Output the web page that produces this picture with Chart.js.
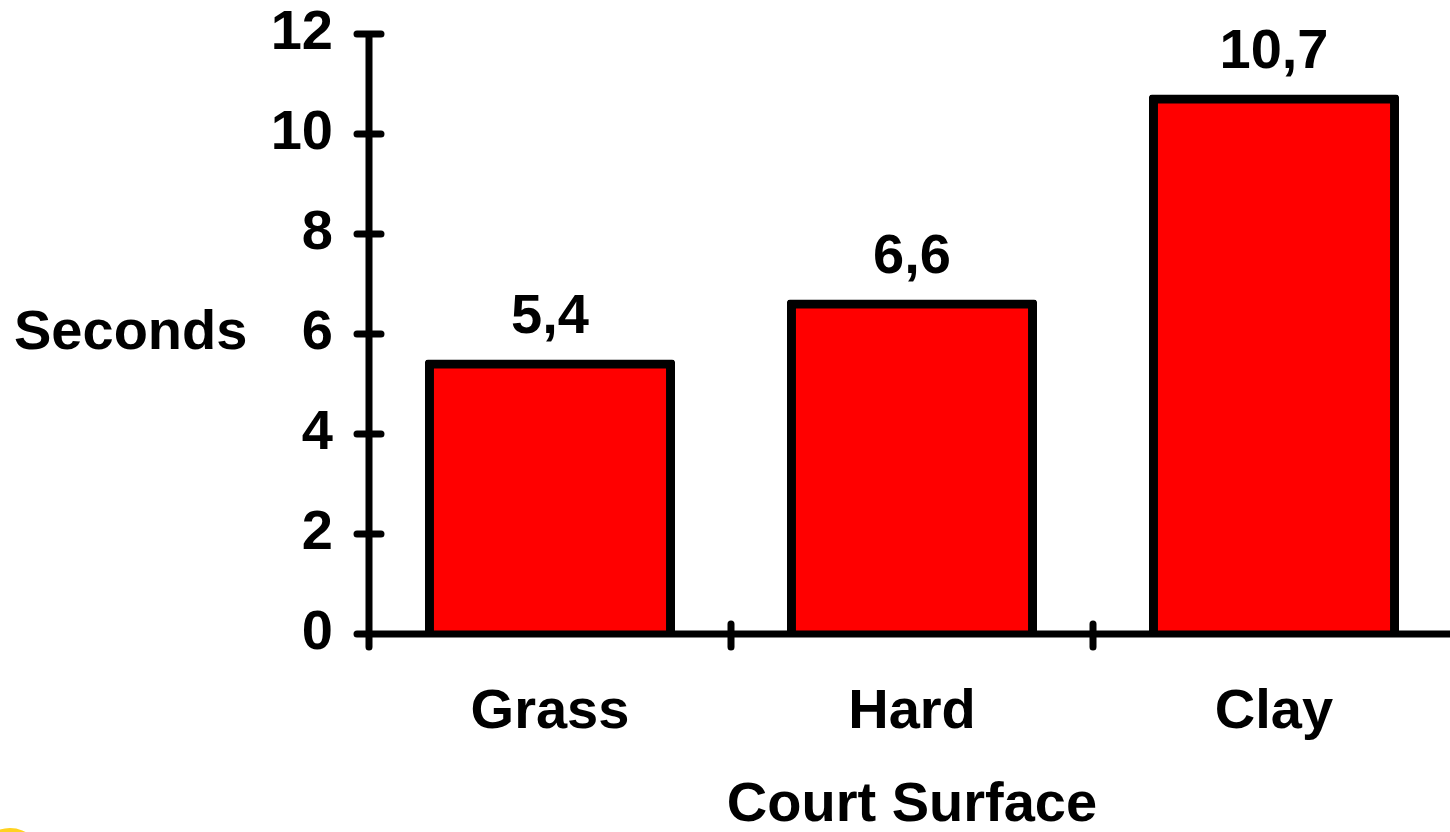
<!DOCTYPE html>
<html>
<head>
<meta charset="utf-8">
<title>Court Surface</title>
<script src="https://cdn.jsdelivr.net/npm/chart.js@4.4.1/dist/chart.umd.min.js"></script>
<style>
    html, body {
        margin: 0;
        padding: 0;
        background: #ffffff;
        overflow: hidden;
    }
    .chart-box {
        width: 1460px;
        height: 832px;
    }
</style>
</head>
<body>
<div class="chart-box">
    <canvas class="surface-chart"></canvas>
</div>
<script>
const surfaces = ['Grass', 'Hard', 'Clay'];
const seconds = [5.4, 6.6, 10.7];
const yTicks = [0, 2, 4, 6, 8, 10, 12];

const ctx = document.querySelector('.surface-chart');
const bigFont = { family: "'Liberation Sans', Arial, sans-serif", size: 56, weight: 'bold' };

// axes with ticks crossing the line, value labels, y title and the corner logo
const decorations = {
    id: 'decorations',
    afterDatasetsDraw(chart) {
        const c = chart.ctx;
        const area = chart.chartArea;
        const y = chart.scales.y;

        c.save();
        c.strokeStyle = '#000000';
        c.lineWidth = 7;
        c.lineCap = 'round';

        // y axis line + ticks
        c.beginPath();
        c.moveTo(area.left, y.getPixelForValue(12));
        c.lineTo(area.left, area.bottom + 13);
        yTicks.forEach(v => {
            const py = y.getPixelForValue(v);
            c.moveTo(area.left - 12, py);
            c.lineTo(area.left + 12, py);
        });
        // x axis line + ticks between categories
        c.moveTo(area.left - 12, area.bottom);
        c.lineTo(chart.width, area.bottom);
        const step = (area.right - area.left) / surfaces.length;
        for (let i = 1; i < surfaces.length; i++) {
            const px = area.left + i * step;
            c.moveTo(px, area.bottom - 10);
            c.lineTo(px, area.bottom + 13);
        }
        c.stroke();

        // value labels
        c.fillStyle = '#000000';
        c.font = 'bold 56px "Liberation Sans", Arial, sans-serif';
        c.textAlign = 'center';
        c.textBaseline = 'alphabetic';
        chart.getDatasetMeta(0).data.forEach((bar, i) => {
            c.fillText(String(seconds[i]).replace('.', ','), bar.x, bar.y - 31);
        });

        // y title, written horizontally
        c.textAlign = 'left';
        c.textBaseline = 'middle';
        c.fillText('Seconds', 14, (area.top + area.bottom) / 2);

        // partly visible yellow logo in the corner
        c.fillStyle = '#ffd21f';
        c.beginPath();
        c.arc(10, 860, 32, 0, Math.PI * 2);
        c.fill();
        c.restore();
    }
};

new Chart(ctx, {
    type: 'bar',
    data: {
        labels: surfaces,
        datasets: [{
            label: 'Seconds',
            data: seconds,
            backgroundColor: '#ff0000',
            borderColor: '#000000',
            borderWidth: 9,
            borderRadius: 3,
            inflateAmount: 4.5,
            categoryPercentage: 1,
            barPercentage: 0.666
        }]
    },
    options: {
        responsive: true,
        maintainAspectRatio: false,
        animation: false,
        layout: {
            padding: { top: 34, right: 5, bottom: 0, left: 0 }
        },
        scales: {
            x: {
                grid: { display: false, drawTicks: false },
                border: { display: false },
                ticks: {
                    color: '#000000',
                    font: bigFont,
                    padding: 45,
                    maxRotation: 0
                },
                title: {
                    display: true,
                    text: 'Court Surface',
                    color: '#000000',
                    font: Object.assign({}, bigFont, { lineHeight: 0.93 }),
                    padding: 0
                },
                afterFit(scale) {
                    scale.height = 198;
                    scale.paddingLeft = 0;
                    scale.paddingRight = 0;
                }
            },
            y: {
                min: 0,
                max: 12,
                grid: { display: false, drawTicks: false },
                border: { display: false },
                ticks: {
                    stepSize: 2,
                    color: '#000000',
                    font: bigFont,
                    padding: 36
                },
                afterFit(scale) {
                    scale.width = 369;
                    scale.paddingTop = 0;
                    scale.paddingBottom = 0;
                }
            }
        },
        plugins: {
            legend: { display: false },
            tooltip: { enabled: false }
        }
    },
    plugins: [decorations]
});
</script>
</body>
</html>
